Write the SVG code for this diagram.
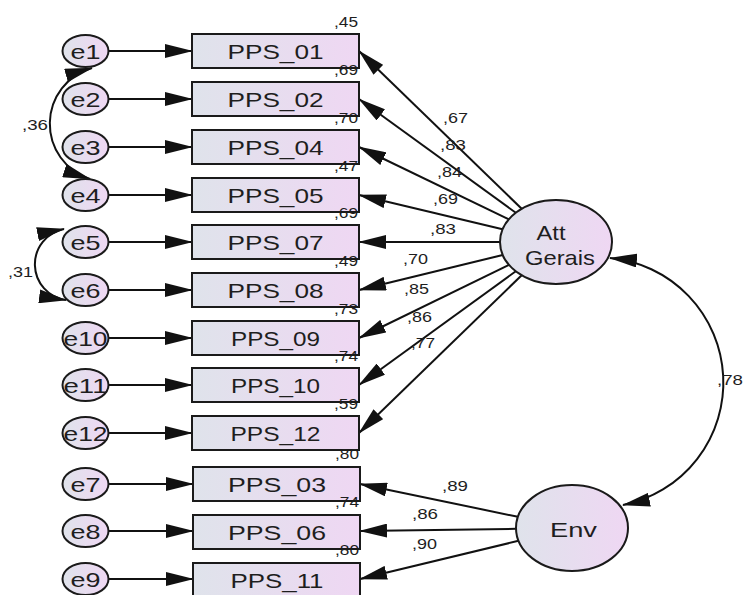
<svg xmlns="http://www.w3.org/2000/svg" width="745" height="595" viewBox="0 0 745 595">
<style>
.box{fill:url(#g);stroke:#1a1a1a;stroke-width:2}
.ell{fill:url(#g);stroke:#1a1a1a;stroke-width:2}
.t{font-family:"Liberation Sans",Arial,sans-serif;fill:#1e1e1e}
.node{font-size:21px;text-anchor:middle}
.el{font-size:21px;text-anchor:middle}
.r2{font-size:15px}
.ld{font-size:15px}
.a{fill:none;stroke:#111;stroke-width:2;marker-end:url(#ah)}
.d{fill:none;stroke:#111;stroke-width:2;marker-start:url(#ah);marker-end:url(#ah)}
</style>
<defs>
<linearGradient id="g" x1="0" y1="0" x2="1" y2="0">
<stop offset="0" stop-color="#dfe3eb"/>
<stop offset="1" stop-color="#efd7f3"/>
</linearGradient>
<marker id="ah" markerUnits="userSpaceOnUse" markerWidth="28" markerHeight="14" refX="27" refY="7" orient="auto-start-reverse" viewBox="0 0 28 14">
<path d="M0,0 L28,7 L0,14 z" fill="#111"/>
</marker>
</defs>
<rect width="745" height="595" fill="#fff"/>

<g id="connectors">
<path class="a" d="M108.5 51 H192"/>
<path class="a" d="M108.5 99 H192"/>
<path class="a" d="M108.5 147 H192"/>
<path class="a" d="M108.5 195 H192"/>
<path class="a" d="M108.5 242 H192"/>
<path class="a" d="M108.5 290 H192"/>
<path class="a" d="M108.5 338 H192"/>
<path class="a" d="M108.5 385 H192"/>
<path class="a" d="M108.5 433 H192"/>
<path class="a" d="M108.5 484 H193"/>
<path class="a" d="M108.5 531 H193"/>
<path class="a" d="M108.5 579 H193"/>
<path class="a" d="M521.7 208.8 L359 51"/>
<path class="a" d="M515.8 212.8 L359 99"/>
<path class="a" d="M508.9 219.3 L359 147"/>
<path class="a" d="M502.6 229.3 L359 195"/>
<path class="a" d="M500 242 L359 242"/>
<path class="a" d="M502.7 255 L359 290"/>
<path class="a" d="M509 264.9 L359 338"/>
<path class="a" d="M515.8 271.2 L359 385"/>
<path class="a" d="M521.7 275.2 L359 433"/>
<path class="a" d="M517.9 516.8 L360 484"/>
<path class="a" d="M516 528.8 L360 531"/>
<path class="a" d="M518.5 540.8 L360 579"/>
<path class="d" d="M92 68 A58 58 0 0 0 90 179"/>
<path class="d" d="M64 229 A36 36 0 0 0 66 300"/>
<path class="d" d="M610 258 A125 125 0 0 1 623 505"/>
</g>

<g id="e1"><ellipse class="ell" cx="85.5" cy="51" rx="23" ry="16"/><text class="t el" x="85.5" y="58.5" textLength="30" lengthAdjust="spacingAndGlyphs">e1</text></g>
<g id="e2"><ellipse class="ell" cx="85.5" cy="99" rx="23" ry="16"/><text class="t el" x="85.5" y="106.5" textLength="30" lengthAdjust="spacingAndGlyphs">e2</text></g>
<g id="e3"><ellipse class="ell" cx="85.5" cy="147" rx="23" ry="16"/><text class="t el" x="85.5" y="154.5" textLength="30" lengthAdjust="spacingAndGlyphs">e3</text></g>
<g id="e4"><ellipse class="ell" cx="85.5" cy="195" rx="23" ry="16"/><text class="t el" x="85.5" y="202.5" textLength="30" lengthAdjust="spacingAndGlyphs">e4</text></g>
<g id="e5"><ellipse class="ell" cx="85.5" cy="242" rx="23" ry="16"/><text class="t el" x="85.5" y="249.5" textLength="30" lengthAdjust="spacingAndGlyphs">e5</text></g>
<g id="e6"><ellipse class="ell" cx="85.5" cy="290" rx="23" ry="16"/><text class="t el" x="85.5" y="297.5" textLength="30" lengthAdjust="spacingAndGlyphs">e6</text></g>
<g id="e10"><ellipse class="ell" cx="85.5" cy="338" rx="23" ry="16"/><text class="t el" x="85.5" y="345.5" textLength="44" lengthAdjust="spacingAndGlyphs">e10</text></g>
<g id="e11"><ellipse class="ell" cx="85.5" cy="385" rx="23" ry="16"/><text class="t el" x="85.5" y="392.5" textLength="44" lengthAdjust="spacingAndGlyphs">e11</text></g>
<g id="e12"><ellipse class="ell" cx="85.5" cy="433" rx="23" ry="16"/><text class="t el" x="85.5" y="440.5" textLength="44" lengthAdjust="spacingAndGlyphs">e12</text></g>
<g id="e7"><ellipse class="ell" cx="85.5" cy="484" rx="23" ry="16"/><text class="t el" x="85.5" y="491.5" textLength="30" lengthAdjust="spacingAndGlyphs">e7</text></g>
<g id="e8"><ellipse class="ell" cx="85.5" cy="531" rx="23" ry="16"/><text class="t el" x="85.5" y="538.5" textLength="30" lengthAdjust="spacingAndGlyphs">e8</text></g>
<g id="e9"><ellipse class="ell" cx="85.5" cy="579" rx="23" ry="16"/><text class="t el" x="85.5" y="586.5" textLength="30" lengthAdjust="spacingAndGlyphs">e9</text></g>

<g id="PPS_01"><rect class="box" x="192" y="34" width="167" height="34"/><text class="t node" x="275.5" y="59" textLength="96" lengthAdjust="spacingAndGlyphs">PPS_01</text></g>
<g id="PPS_02"><rect class="box" x="192" y="82" width="167" height="34"/><text class="t node" x="275.5" y="107" textLength="96" lengthAdjust="spacingAndGlyphs">PPS_02</text></g>
<g id="PPS_04"><rect class="box" x="192" y="130" width="167" height="34"/><text class="t node" x="275.5" y="155" textLength="96" lengthAdjust="spacingAndGlyphs">PPS_04</text></g>
<g id="PPS_05"><rect class="box" x="192" y="178" width="167" height="34"/><text class="t node" x="275.5" y="203" textLength="96" lengthAdjust="spacingAndGlyphs">PPS_05</text></g>
<g id="PPS_07"><rect class="box" x="192" y="225" width="167" height="34"/><text class="t node" x="275.5" y="250" textLength="96" lengthAdjust="spacingAndGlyphs">PPS_07</text></g>
<g id="PPS_08"><rect class="box" x="192" y="273" width="167" height="34"/><text class="t node" x="275.5" y="298" textLength="96" lengthAdjust="spacingAndGlyphs">PPS_08</text></g>
<g id="PPS_09"><rect class="box" x="192" y="321" width="167" height="34"/><text class="t node" x="275.5" y="346" textLength="89" lengthAdjust="spacingAndGlyphs">PPS_09</text></g>
<g id="PPS_10"><rect class="box" x="192" y="368" width="167" height="34"/><text class="t node" x="275.5" y="393" textLength="89" lengthAdjust="spacingAndGlyphs">PPS_10</text></g>
<g id="PPS_12"><rect class="box" x="192" y="416" width="167" height="34"/><text class="t node" x="275.5" y="441" textLength="90" lengthAdjust="spacingAndGlyphs">PPS_12</text></g>
<g id="PPS_03"><rect class="box" x="193" y="467" width="167" height="34"/><text class="t node" x="277" y="492" textLength="98" lengthAdjust="spacingAndGlyphs">PPS_03</text></g>
<g id="PPS_06"><rect class="box" x="193" y="515" width="167" height="34"/><text class="t node" x="277" y="540" textLength="98" lengthAdjust="spacingAndGlyphs">PPS_06</text></g>
<g id="PPS_11"><rect class="box" x="193" y="563" width="167" height="34"/><text class="t node" x="277" y="588" textLength="93" lengthAdjust="spacingAndGlyphs">PPS_11</text></g>

<g id="AttGerais"><ellipse class="ell" cx="556" cy="242" rx="56" ry="42"/><text class="t node" x="551" y="240" textLength="29" lengthAdjust="spacingAndGlyphs">Att</text><text class="t node" x="560" y="265" textLength="70" lengthAdjust="spacingAndGlyphs">Gerais</text></g>
<g id="Env"><ellipse class="ell" cx="572" cy="528" rx="56" ry="43"/><text class="t node" x="573.5" y="537" textLength="47" lengthAdjust="spacingAndGlyphs">Env</text></g>

<g id="r2-labels">
<text class="t r2" x="334" y="27" textLength="24" lengthAdjust="spacingAndGlyphs">,45</text>
<text class="t r2" x="334" y="75" textLength="24" lengthAdjust="spacingAndGlyphs">,69</text>
<text class="t r2" x="334" y="123" textLength="24" lengthAdjust="spacingAndGlyphs">,70</text>
<text class="t r2" x="334" y="171" textLength="24" lengthAdjust="spacingAndGlyphs">,47</text>
<text class="t r2" x="334" y="218" textLength="24" lengthAdjust="spacingAndGlyphs">,69</text>
<text class="t r2" x="334" y="266" textLength="24" lengthAdjust="spacingAndGlyphs">,49</text>
<text class="t r2" x="334" y="314" textLength="24" lengthAdjust="spacingAndGlyphs">,73</text>
<text class="t r2" x="334" y="361" textLength="24" lengthAdjust="spacingAndGlyphs">,74</text>
<text class="t r2" x="334" y="409" textLength="24" lengthAdjust="spacingAndGlyphs">,59</text>
<text class="t r2" x="335" y="459" textLength="24" lengthAdjust="spacingAndGlyphs">,80</text>
<text class="t r2" x="335" y="507" textLength="24" lengthAdjust="spacingAndGlyphs">,74</text>
<text class="t r2" x="335" y="555" textLength="24" lengthAdjust="spacingAndGlyphs">,80</text>
</g>

<g id="path-labels">
<text class="t ld" x="443" y="123" textLength="25" lengthAdjust="spacingAndGlyphs">,67</text>
<text class="t ld" x="440" y="150" textLength="26" lengthAdjust="spacingAndGlyphs">,83</text>
<text class="t ld" x="437" y="177" textLength="25" lengthAdjust="spacingAndGlyphs">,84</text>
<text class="t ld" x="433" y="204" textLength="25" lengthAdjust="spacingAndGlyphs">,69</text>
<text class="t ld" x="430" y="234" textLength="26" lengthAdjust="spacingAndGlyphs">,83</text>
<text class="t ld" x="403" y="264" textLength="25" lengthAdjust="spacingAndGlyphs">,70</text>
<text class="t ld" x="404" y="294" textLength="25" lengthAdjust="spacingAndGlyphs">,85</text>
<text class="t ld" x="407" y="322" textLength="25" lengthAdjust="spacingAndGlyphs">,86</text>
<text class="t ld" x="411" y="348" textLength="24" lengthAdjust="spacingAndGlyphs">,77</text>
<text class="t ld" x="442" y="491" textLength="26" lengthAdjust="spacingAndGlyphs">,89</text>
<text class="t ld" x="412" y="519" textLength="26" lengthAdjust="spacingAndGlyphs">,86</text>
<text class="t ld" x="412" y="549" textLength="25" lengthAdjust="spacingAndGlyphs">,90</text>
<text class="t ld" x="717" y="385" textLength="26" lengthAdjust="spacingAndGlyphs">,78</text>
<text class="t ld" x="22" y="130" textLength="26" lengthAdjust="spacingAndGlyphs">,36</text>
<text class="t ld" x="8" y="277" textLength="25" lengthAdjust="spacingAndGlyphs">,31</text>
</g>
</svg>
